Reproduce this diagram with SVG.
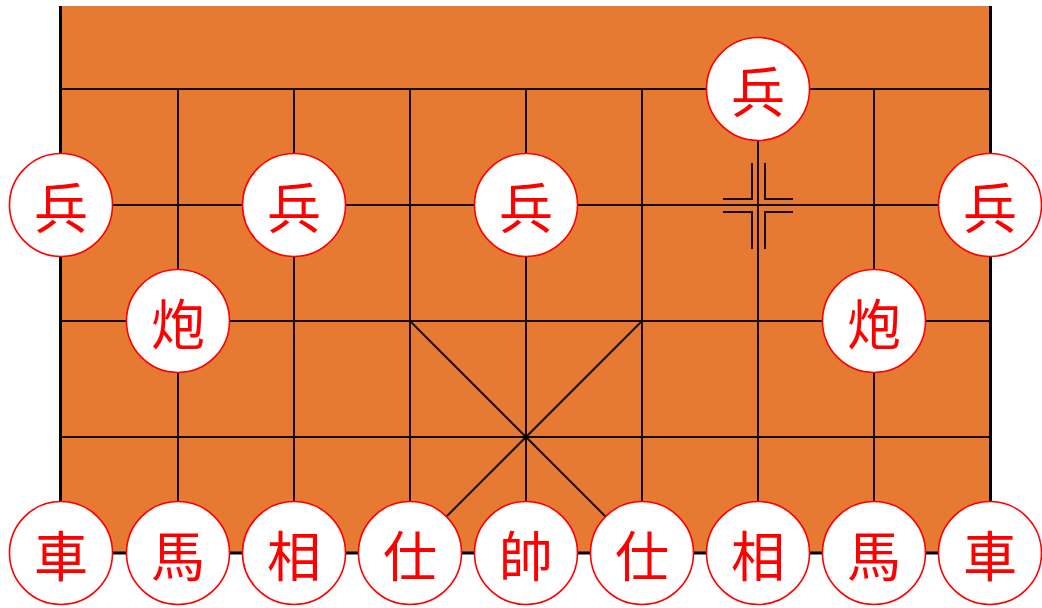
<svg xmlns="http://www.w3.org/2000/svg" width="1042" height="608" viewBox="0 0 1042 608">
<style>
.grid{stroke:#1a0d05;stroke-width:2;fill:none}
.border{stroke:#000;stroke-width:3;fill:none}
.mark{stroke:#1a0d05;stroke-width:2;fill:none}
.piece circle{fill:#fff;stroke:#f00;stroke-width:1.6}
.piece text{fill:#f00;font-family:"Noto Sans CJK SC","Noto Sans CJK TC",sans-serif;font-size:54px;text-anchor:middle;dominant-baseline:central}
</style>
<rect x="0" y="0" width="1042" height="608" fill="#fff"/>
<g id="board">
<rect x="61" y="6" width="929.5" height="548" fill="#E67A33"/>
</g>
<g id="connectors">
<line class="border" x1="60.5" y1="6" x2="60.5" y2="554"/>
<line class="border" x1="990.5" y1="6" x2="990.5" y2="554"/>
<line class="grid" x1="61" y1="89" x2="990" y2="89"/>
<line class="grid" x1="61" y1="205" x2="990" y2="205"/>
<line class="grid" x1="61" y1="321" x2="990" y2="321"/>
<line class="grid" x1="61" y1="437" x2="990" y2="437"/>
<line class="border" x1="61" y1="553" x2="990" y2="553"/>
<line class="grid" x1="178" y1="89" x2="178" y2="553"/>
<line class="grid" x1="294" y1="89" x2="294" y2="553"/>
<line class="grid" x1="410" y1="89" x2="410" y2="553"/>
<line class="grid" x1="526" y1="89" x2="526" y2="553"/>
<line class="grid" x1="642" y1="89" x2="642" y2="553"/>
<line class="grid" x1="758" y1="89" x2="758" y2="553"/>
<line class="grid" x1="874" y1="89" x2="874" y2="553"/>
<line class="grid" stroke-width="1.6" x1="410" y1="321" x2="642" y2="553"/>
<line class="grid" stroke-width="1.6" x1="642" y1="321" x2="410" y2="553"/>
<circle cx="526" cy="437" r="2.5" fill="#000"/>
<path class="mark" d="M752 163 V199 H723 M765 163 V199 H793 M752 249 V212 H723 M765 249 V212 H793"/>
</g>
<g id="p-bing1" class="piece"><circle cx="758" cy="89" r="51.5"/><text x="758" y="89">兵</text></g>
<g id="p-bing2" class="piece"><circle cx="61" cy="205" r="51.5"/><text x="61" y="205">兵</text></g>
<g id="p-bing3" class="piece"><circle cx="294" cy="205" r="51.5"/><text x="294" y="205">兵</text></g>
<g id="p-bing4" class="piece"><circle cx="526" cy="205" r="51.5"/><text x="526" y="205">兵</text></g>
<g id="p-bing5" class="piece"><circle cx="990" cy="205" r="51.5"/><text x="990" y="205">兵</text></g>
<g id="p-pao1" class="piece"><circle cx="178" cy="321" r="51.5"/><text x="178" y="321">炮</text></g>
<g id="p-pao2" class="piece"><circle cx="874" cy="321" r="51.5"/><text x="874" y="321">炮</text></g>
<g id="p-ju1" class="piece"><circle cx="61" cy="553" r="51.5"/><text x="61" y="553">車</text></g>
<g id="p-ma1" class="piece"><circle cx="178" cy="553" r="51.5"/><text x="178" y="553">馬</text></g>
<g id="p-xiang1" class="piece"><circle cx="294" cy="553" r="51.5"/><text x="294" y="553">相</text></g>
<g id="p-shi1" class="piece"><circle cx="410" cy="553" r="51.5"/><text x="410" y="553">仕</text></g>
<g id="p-shuai" class="piece"><circle cx="526" cy="553" r="51.5"/><text x="526" y="553">帥</text></g>
<g id="p-shi2" class="piece"><circle cx="642" cy="553" r="51.5"/><text x="642" y="553">仕</text></g>
<g id="p-xiang2" class="piece"><circle cx="758" cy="553" r="51.5"/><text x="758" y="553">相</text></g>
<g id="p-ma2" class="piece"><circle cx="874" cy="553" r="51.5"/><text x="874" y="553">馬</text></g>
<g id="p-ju2" class="piece"><circle cx="990" cy="553" r="51.5"/><text x="990" y="553">車</text></g>
</svg>
